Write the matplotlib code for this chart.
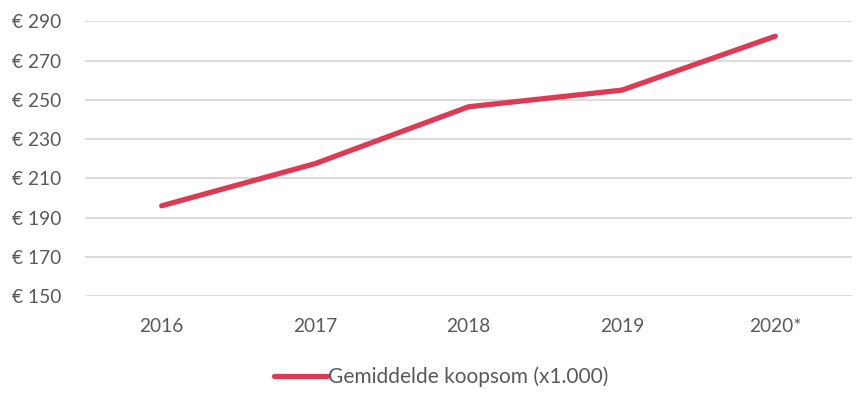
import matplotlib
matplotlib.use("Agg")
import matplotlib.pyplot as plt
from matplotlib.ticker import FuncFormatter

plt.rcParams['font.family'] = ['Lato', 'DejaVu Sans']

years = ["2016", "2017", "2018", "2019", "2020*"]
koopsom = [196, 217.5, 246.5, 255, 282.5]
yticks = [150, 170, 190, 210, 230, 250, 270, 290]

W, H = 863, 399
fig = plt.figure(figsize=(W/100, H/100), dpi=100)
ax = fig.add_axes([85/W, 1-296/H, (852-85)/W, (296-21.5)/H])

x = list(range(len(years)))
line_color = '#DD3B55'
text_color = '#595959'
ax.plot(x, koopsom, color=line_color, lw=3.8, solid_capstyle='round',
        solid_joinstyle='round', label='Gemiddelde koopsom (x1.000)')

ax.set_xlim(-0.5, len(years)-0.5)
ax.set_ylim(150, 290)
ax.set_yticks(yticks)
ax.yaxis.set_major_formatter(FuncFormatter(lambda v, p: f"€ {int(v)}"))
ax.set_xticks(x)
ax.set_xticklabels(years)
ax.grid(axis='y', color='#D9D9D9', lw=1.3)
ax.set_axisbelow(True)
for s in ax.spines.values():
    s.set_visible(False)
ax.tick_params(axis='both', length=0, colors=text_color, labelsize=13.8)
ax.tick_params(axis='y', pad=17)
ax.tick_params(axis='x', pad=16)

leg = fig.legend(loc='center', bbox_to_anchor=(441/W, 1-377/H), frameon=False,
                 fontsize=15, handlelength=2.55, handletextpad=0.05, labelcolor=text_color)

fig.savefig("out.png", dpi=100, facecolor='white')
